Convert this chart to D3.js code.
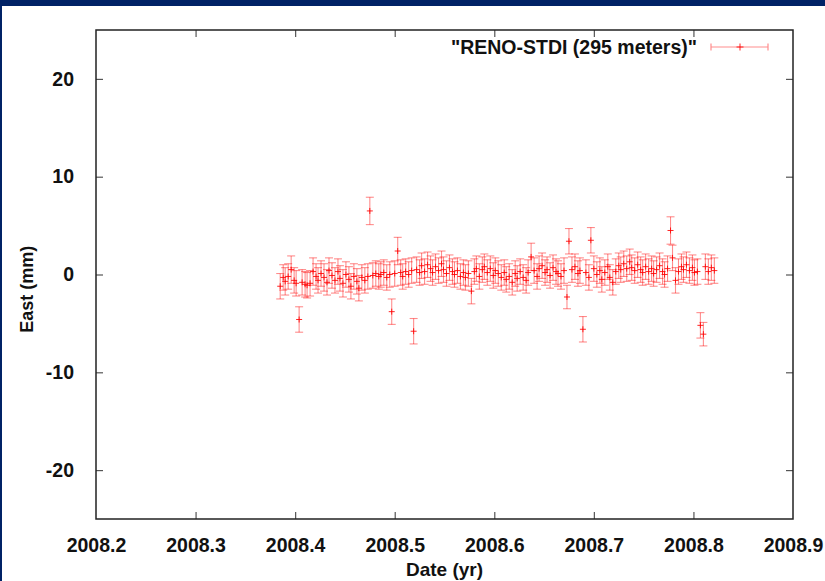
<!DOCTYPE html>
<html>
<head>
<meta charset="utf-8">
<script src="https://cdn.jsdelivr.net/npm/d3@7"></script>
<style>
    html, body { margin: 0; padding: 0; background: #002266; }
    svg { display: block; }
    .tick text { font-family: "Liberation Sans", Arial, sans-serif; font-weight: bold; font-size: 19.5px; fill: #111; }
</style>
</head>
<body>
<svg id="chart" width="825" height="581"></svg>
<script>
// decimal year of each daily solution
const dates = [
    2008.385, 2008.388, 2008.390, 2008.393, 2008.396, 2008.399, 2008.401, 2008.404, 2008.407, 2008.410,
    2008.412, 2008.415, 2008.418, 2008.421, 2008.423, 2008.426, 2008.429, 2008.432, 2008.434, 2008.437,
    2008.440, 2008.443, 2008.445, 2008.448, 2008.451, 2008.454, 2008.456, 2008.459, 2008.462, 2008.464,
    2008.467, 2008.470, 2008.473, 2008.475, 2008.478, 2008.481, 2008.484, 2008.486, 2008.489, 2008.492,
    2008.495, 2008.497, 2008.500, 2008.503, 2008.506, 2008.508, 2008.511, 2008.514, 2008.517, 2008.519,
    2008.522, 2008.525, 2008.527, 2008.530, 2008.533, 2008.536, 2008.538, 2008.541, 2008.544, 2008.547,
    2008.549, 2008.552, 2008.555, 2008.558, 2008.560, 2008.563, 2008.566, 2008.569, 2008.571, 2008.574,
    2008.577, 2008.580, 2008.582, 2008.585, 2008.588, 2008.590, 2008.593, 2008.596, 2008.599, 2008.601,
    2008.604, 2008.607, 2008.610, 2008.612, 2008.615, 2008.618, 2008.621, 2008.623, 2008.626, 2008.629,
    2008.632, 2008.634, 2008.637, 2008.640, 2008.643, 2008.645, 2008.648, 2008.651, 2008.653, 2008.656,
    2008.659, 2008.662, 2008.664, 2008.667, 2008.670, 2008.673, 2008.675, 2008.678, 2008.681, 2008.684,
    2008.686, 2008.689, 2008.692, 2008.695, 2008.697, 2008.700, 2008.703, 2008.706, 2008.708, 2008.711,
    2008.714, 2008.716, 2008.719, 2008.722, 2008.725, 2008.727, 2008.730, 2008.733, 2008.736, 2008.738,
    2008.741, 2008.744, 2008.747, 2008.749, 2008.752, 2008.755, 2008.758, 2008.760, 2008.763, 2008.766,
    2008.769, 2008.771, 2008.774, 2008.777, 2008.779, 2008.782, 2008.785, 2008.788, 2008.790, 2008.793,
    2008.796, 2008.799, 2008.801, 2008.804, 2008.807, 2008.810, 2008.812, 2008.815, 2008.818, 2008.821
];

// east offset (mm)
const east = [
    -1.2, -0.3, -0.7, -0.2, 0.5, -0.6, -0.9, -4.6, -0.8, -1.0,
    -1.1, -0.9, 0.3, -0.2, -0.6, 0.1, -0.3, -0.8, 0.4, -0.1,
    -0.6, 0.3, -0.4, -0.9, 0.0, -0.5, -1.2, -0.2, -0.7, -1.4,
    -0.3, -0.6, -0.2, 6.5, -0.1, 0.1, -0.2, 0.0, 0.2, -0.3,
    0.0, -3.8, 0.1, 2.4, 0.2, -0.2, 0.3, 0.0, 0.4, -5.8,
    0.5, 0.2, 0.9, 0.3, 1.0, 0.6, 0.2, 0.8, 0.4, 1.1,
    0.5, 0.1, 0.7, 0.3, 0.0, 0.4, -0.2, 0.2, -0.3, 0.1,
    -1.7, 0.3, 0.6, -0.2, 0.5, 0.8, 0.2, 0.6, -0.1, 0.4,
    0.1, -0.3, 0.2, -0.5, -0.2, -0.8, 0.1, -0.4, 0.3, -0.3,
    -0.6, 0.2, 1.8, 0.4, -0.2, 0.6, 0.9, 0.2, 0.5, -0.1,
    0.7, 0.3, 0.1, -0.2, 0.4, -2.3, 3.4, 0.5, 0.8, 0.1,
    0.4, -5.6, 0.2, -0.3, 3.5, 0.6, 0.0, 0.4, -0.5, 0.2,
    0.8, -0.3, -0.8, 0.3, 0.9, 0.5, 1.1, 0.6, 1.3, 0.7,
    0.4, 1.0, 0.5, 0.2, 0.8, 0.3, 0.6, 0.1, 0.5, 0.9,
    0.3, 0.0, 0.6, 4.5, 1.7, -0.6, 0.3, 0.8, 0.5, 1.0,
    0.4, 0.7, 0.2, 0.3, -5.2, -6.1, 0.8, 0.3, 0.7, 0.4
];

// one-sigma error (mm)
const sigma = [
    1.3, 1.3, 1.4, 1.3, 1.4, 1.3, 1.3, 1.3, 1.3, 1.3,
    1.3, 1.3, 1.4, 1.3, 1.3, 1.3, 1.4, 1.3, 1.3, 1.3,
    1.3, 1.3, 1.3, 1.4, 1.3, 1.3, 1.3, 1.3, 1.3, 1.3,
    1.3, 1.3, 1.3, 1.4, 1.3, 1.3, 1.3, 1.3, 1.3, 1.3,
    1.3, 1.3, 1.3, 1.4, 1.3, 1.3, 1.3, 1.3, 1.3, 1.3,
    1.3, 1.3, 1.3, 1.3, 1.3, 1.3, 1.3, 1.3, 1.3, 1.3,
    1.3, 1.3, 1.3, 1.3, 1.3, 1.3, 1.3, 1.3, 1.3, 1.3,
    1.3, 1.3, 1.3, 1.3, 1.3, 1.3, 1.3, 1.3, 1.3, 1.3,
    1.3, 1.3, 1.3, 1.3, 1.3, 1.3, 1.3, 1.3, 1.3, 1.3,
    1.3, 1.3, 1.4, 1.3, 1.3, 1.3, 1.3, 1.3, 1.3, 1.3,
    1.3, 1.3, 1.3, 1.3, 1.3, 1.2, 1.3, 1.3, 1.3, 1.3,
    1.3, 1.3, 1.3, 1.3, 1.3, 1.3, 1.3, 1.3, 1.3, 1.3,
    1.3, 1.3, 1.3, 1.3, 1.3, 1.3, 1.3, 1.3, 1.3, 1.3,
    1.3, 1.3, 1.3, 1.3, 1.3, 1.3, 1.3, 1.3, 1.3, 1.3,
    1.3, 1.3, 1.3, 1.4, 1.3, 1.3, 1.3, 1.3, 1.3, 1.3,
    1.3, 1.3, 1.3, 1.3, 1.3, 1.2, 1.3, 1.3, 1.3, 1.3
];

const xTicks = [2008.2, 2008.3, 2008.4, 2008.5, 2008.6, 2008.7, 2008.8, 2008.9];
const yTicks = [-20, -10, 0, 10, 20];
const seriesName = "\"RENO-STDI (295 meters)\"";

const svg = d3.select("#chart");
const width = +svg.attr("width");
const height = +svg.attr("height");
const margin = { top: 30, right: 32, bottom: 62, left: 96 };

const colors = {
    bar: "rgba(255, 0, 0, 0.45)",
    point: "rgba(255, 0, 0, 0.85)",
    frame: "#222",
    tick: "#555",
}

// white slide area inside the navy frame
svg.append("rect")
    .attr("x", 2)
    .attr("y", 6)
    .attr("width", width - 2)
    .attr("height", height - 6)
    .attr("fill", "#fff");

const x = d3.scaleLinear().domain([2008.2, 2008.9]).range([margin.left, width - margin.right]);
const y = d3.scaleLinear().domain([-25, 25]).range([height - margin.bottom, margin.top]);

const data = dates.map((d, i) => ({ t: d, v: east[i], e: sigma[i] }));

// axes, gnuplot style: ticks pointing inwards on all four sides
const tickLen = 7;
const bottomAxis = svg.append("g")
    .attr("transform", `translate(0,${y.range()[0]})`)
    .call(d3.axisBottom(x).tickValues(xTicks).tickFormat(d3.format(".1f")).tickSize(-tickLen).tickPadding(19));
const topAxis = svg.append("g")
    .attr("transform", `translate(0,${y.range()[1]})`)
    .call(d3.axisTop(x).tickValues(xTicks).tickFormat("").tickSize(-tickLen));
const leftAxis = svg.append("g")
    .attr("transform", `translate(${x.range()[0]},0)`)
    .call(d3.axisLeft(y).tickValues(yTicks).tickFormat(d => String(d)).tickSize(-tickLen).tickPadding(22));
const rightAxis = svg.append("g")
    .attr("transform", `translate(${x.range()[1]},0)`)
    .call(d3.axisRight(y).tickValues(yTicks).tickFormat("").tickSize(-tickLen));

[bottomAxis, topAxis, leftAxis, rightAxis].forEach(a => {
    a.select(".domain").remove();
    a.selectAll(".tick line").attr("stroke", colors.tick).attr("stroke-width", 1.2);
});

// hide ticks that sit on the frame corners
bottomAxis.selectAll(".tick line").filter(d => d === 2008.2 || d === 2008.9).remove();
topAxis.selectAll(".tick line").filter(d => d === 2008.2 || d === 2008.9).remove();

// error bars
const cap = 4;
const bars = svg.append("g");
data.forEach(d => {
    const cx = x(d.t);
    const y1 = y(d.v + d.e);
    const y0 = y(d.v - d.e);
    bars.append("line").attr("x1", cx).attr("x2", cx).attr("y1", y1).attr("y2", y0)
        .attr("stroke", colors.bar).attr("stroke-width", 1.1);
    bars.append("line").attr("x1", cx - cap).attr("x2", cx + cap).attr("y1", y1).attr("y2", y1)
        .attr("stroke", colors.bar).attr("stroke-width", 1.1);
    bars.append("line").attr("x1", cx - cap).attr("x2", cx + cap).attr("y1", y0).attr("y2", y0)
        .attr("stroke", colors.bar).attr("stroke-width", 1.1);
});

// "+" point markers
const pts = svg.append("g");
data.forEach(d => {
    const cx = x(d.t);
    const cy = y(d.v);
    pts.append("path")
        .attr("d", `M${cx - 3},${cy}H${cx + 3}M${cx},${cy - 3}V${cy + 3}`)
        .attr("stroke", colors.point)
        .attr("stroke-width", 1);
});

// plot frame
svg.append("rect")
    .attr("x", x.range()[0])
    .attr("y", y.range()[1])
    .attr("width", x.range()[1] - x.range()[0])
    .attr("height", y.range()[0] - y.range()[1])
    .attr("fill", "none")
    .attr("stroke", colors.frame)
    .attr("stroke-width", 1.5);

// axis titles
svg.append("text")
    .attr("x", (x.range()[0] + x.range()[1]) / 2)
    .attr("y", 576)
    .attr("text-anchor", "middle")
    .style("font-family", "Liberation Sans, Arial, sans-serif")
    .style("font-weight", "bold")
    .style("font-size", "19px")
    .attr("fill", "#111")
    .text("Date (yr)");

svg.append("text")
    .attr("transform", `translate(33,${y(-1.5)}) rotate(-90)`)
    .attr("text-anchor", "middle")
    .style("font-family", "Liberation Sans, Arial, sans-serif")
    .style("font-weight", "bold")
    .style("font-size", "18px")
    .attr("fill", "#111")
    .text("East (mm)");

// legend
const legend = svg.append("g").attr("transform", "translate(0,47)");
legend.append("text")
    .attr("x", 697)
    .attr("y", 7)
    .attr("text-anchor", "end")
    .style("font-family", "Liberation Sans, Arial, sans-serif")
    .style("font-weight", "bold")
    .style("font-size", "19.5px")
    .attr("fill", "#111")
    .text(seriesName);
legend.append("path")
    .attr("d", "M711,0H768M711,-3.5V3.5M768,-3.5V3.5")
    .attr("stroke", colors.bar)
    .attr("stroke-width", 1.2);
legend.append("path")
    .attr("d", "M736.5,0H743.5M740,-3.5V3.5")
    .attr("stroke", colors.point)
    .attr("stroke-width", 1);
</script>
</body>
</html>
